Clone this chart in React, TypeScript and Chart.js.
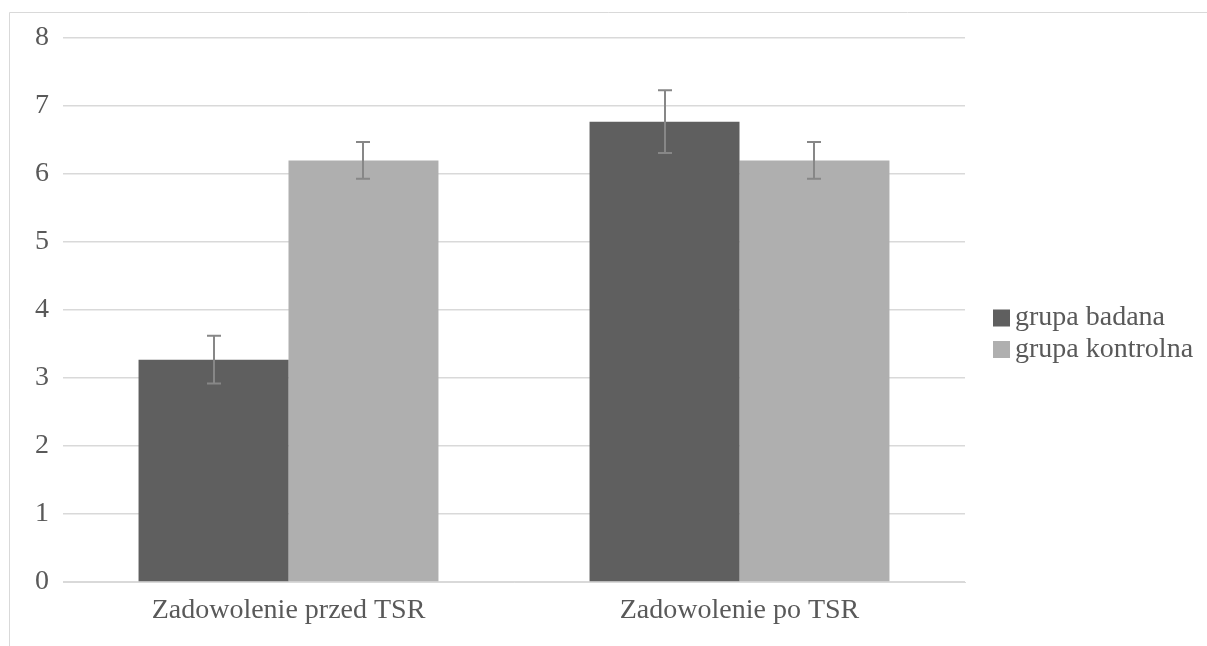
import React, { useEffect, useRef } from "react";
import { Chart, registerables } from "chart.js";

Chart.register(...registerables);

const categories = ["Zadowolenie przed TSR", "Zadowolenie po TSR"];
const seriesNames = ["grupa badana", "grupa kontrolna"];
const grupaBadana = [3.27, 6.77];
const grupaKontrolna = [6.2, 6.2];
const errBadana = [0.35, 0.46];
const errKontrolna = [0.27, 0.27];
const yTicks = [0, 1, 2, 3, 4, 5, 6, 7, 8];

const FONT = "'Liberation Serif', 'Times New Roman', serif";
const TEXT = "#595959";
const GRID = "#d9d9d9";

const frame = {
  id: "frame",
  beforeDraw(chart: any) {
    const ctx = chart.ctx;
    ctx.save();
    ctx.fillStyle = "#ffffff";
    ctx.fillRect(0, 0, chart.width, chart.height);
    ctx.strokeStyle = GRID;
    ctx.lineWidth = 1;
    ctx.beginPath();
    ctx.moveTo(9.5, chart.height);
    ctx.lineTo(9.5, 12.5);
    ctx.lineTo(chart.width, 12.5);
    ctx.stroke();
    ctx.restore();
  },
};

const errorBars = {
  id: "errorBars",
  afterDatasetsDraw(chart: any) {
    const ctx = chart.ctx;
    const ys = chart.scales.y;
    const errs = [errBadana, errKontrolna];
    ctx.save();
    ctx.strokeStyle = "#878787";
    ctx.lineWidth = 2;
    chart.data.datasets.forEach((ds: any, i: number) => {
      const meta = chart.getDatasetMeta(i);
      meta.data.forEach((el: any, j: number) => {
        const v = ds.data[j];
        const e = errs[i][j];
        const x = Math.round(el.x);
        const yt = ys.getPixelForValue(v + e);
        const yb = ys.getPixelForValue(v - e);
        ctx.beginPath();
        ctx.moveTo(x, yt);
        ctx.lineTo(x, yb);
        ctx.moveTo(x - 7, yt);
        ctx.lineTo(x + 7, yt);
        ctx.moveTo(x - 7, yb);
        ctx.lineTo(x + 7, yb);
        ctx.stroke();
      });
    });
    ctx.restore();
  },
};

const customLegend = {
  id: "customLegend",
  afterDraw(chart: any) {
    const ctx = chart.ctx;
    ctx.save();
    ctx.font = `28px ${FONT}`;
    ctx.textBaseline = "middle";
    ctx.textAlign = "left";
    chart.data.datasets.forEach((ds: any, i: number) => {
      const cy = 318 + i * 31.5;
      ctx.fillStyle = ds.backgroundColor;
      ctx.fillRect(993, cy - 8.5, 17, 17);
      ctx.fillStyle = TEXT;
      ctx.fillText(ds.label, 1015, cy);
    });
    ctx.restore();
  },
};

export default function App() {
  const ref = useRef<HTMLCanvasElement>(null);
  useEffect(() => {
    if (!ref.current) return;
    const chart = new Chart(ref.current, {
      type: "bar",
      data: {
        labels: categories,
        datasets: [
          {
            label: seriesNames[0],
            data: grupaBadana,
            backgroundColor: "#5f5f5f",
            categoryPercentage: 0.665,
            barPercentage: 1.0,
          },
          {
            label: seriesNames[1],
            data: grupaKontrolna,
            backgroundColor: "#afafaf",
            categoryPercentage: 0.665,
            barPercentage: 1.0,
          },
        ],
      },
      options: {
        animation: false,
        responsive: false,
        maintainAspectRatio: false,
        layout: { padding: { left: 13, top: 38, right: 242, bottom: 0 } },
        plugins: {
          legend: { display: false },
          tooltip: { enabled: false },
          title: { display: false },
        },
        scales: {
          x: {
            grid: { display: false, drawTicks: false },
            border: { display: true, color: GRID, width: 1 },
            ticks: {
              color: TEXT,
              font: { family: FONT, size: 28 },
              padding: 12,
              maxRotation: 0,
            },
            afterFit(s: any) {
              s.height = 64;
            },
          },
          y: {
            min: 0,
            max: 8,
            grid: { color: GRID, lineWidth: 1.5, drawTicks: false },
            border: { display: false },
            afterBuildTicks(s: any) {
              s.ticks = yTicks.map((v) => ({ value: v }));
            },
            ticks: {
              color: TEXT,
              font: { family: FONT, size: 28 },
              padding: 14,
            },
            afterFit(s: any) {
              s.width = 50;
            },
          },
        },
      },
      plugins: [frame, errorBars, customLegend],
    });
    return () => chart.destroy();
  }, []);
  return (
    <div style={{ position: "fixed", left: 0, top: 0, width: 1207, height: 646 }}>
      <canvas ref={ref} width={1207} height={646} style={{ width: 1207, height: 646, display: "block" }} />
    </div>
  );
}
